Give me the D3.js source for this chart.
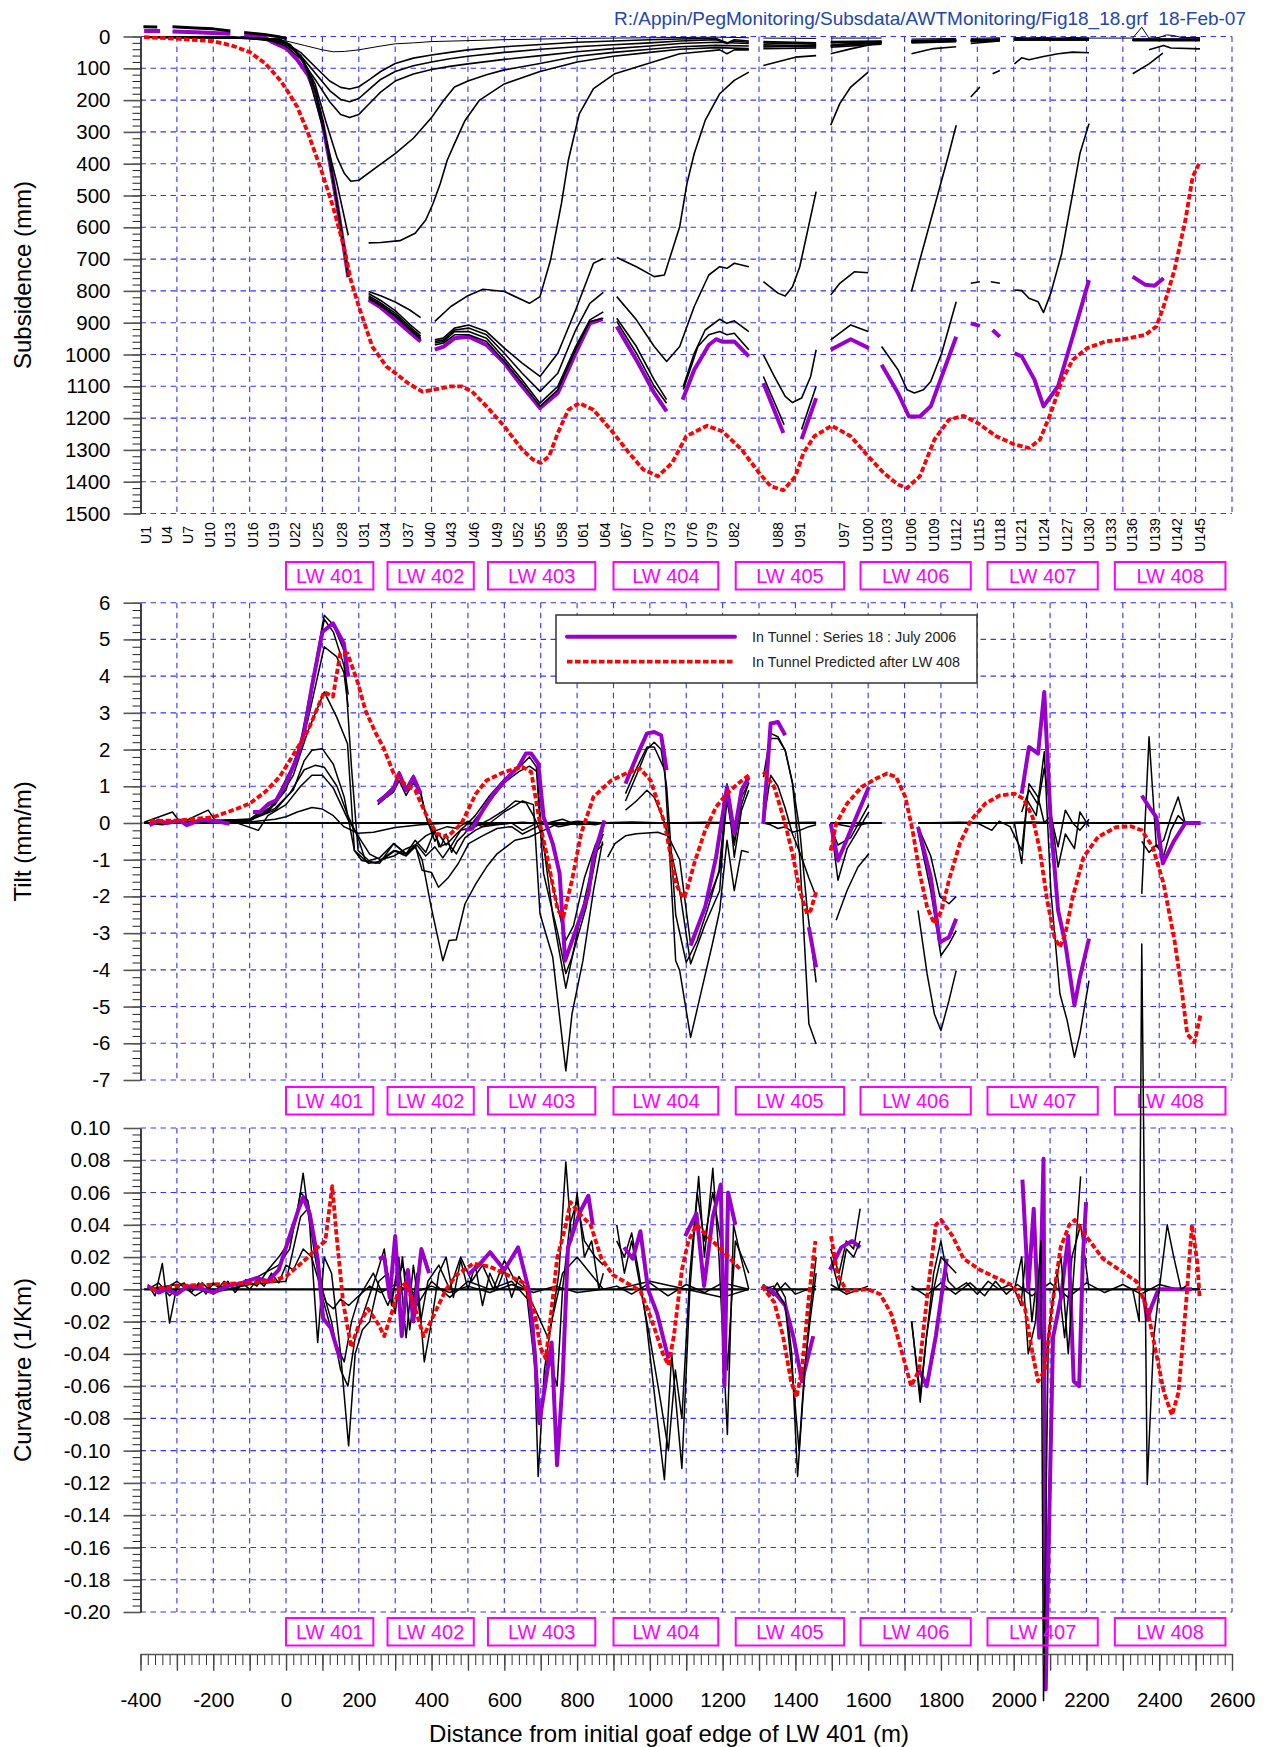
<!DOCTYPE html>
<html>
<head>
<meta charset="utf-8">
<title>Tunnel subsidence, tilt and curvature – LW 401 to LW 408</title>
<script src="https://cdn.jsdelivr.net/npm/d3@7"></script>
<style>
  html, body { margin: 0; padding: 0; background: #ffffff; }
  svg { display: block; }
  .header { white-space: pre; }
</style>
</head>
<body>
<svg id="chart" width="1272" height="1747"></svg>
<script>
// ================= DATA =================
// Distances (m) from the initial goaf edge of LW 401; gaps in a survey are null.

const headerText = "R:/Appin/PegMonitoring/Subsdata/AWTMonitoring/Fig18_18.grf  18-Feb-07";

// peg labels along the tunnel and their distances
const pegLabels = ["U1","U4","U7","U10","U13","U16","U19","U22","U25","U28","U31","U34","U37","U40","U43","U46","U49","U52","U55","U58","U61","U64","U67","U70","U73","U76","U79","U82","U88","U91","U97","U100","U103","U106","U109","U112","U115","U118","U121","U124","U127","U130","U133","U136","U139","U142","U145"];
const pegDistances = [-386,-326,-270,-210,-153,-90,-32,26,89,155,215,273,336,395,453,516,580,637,699,758,816,877,935,996,1056,1116,1171,1232,1351,1414,1534,1600,1651,1718,1780,1841,1905,1962,2021,2083,2146,2206,2267,2325,2387,2449,2512];

// longwall panels
const lwNames = ["LW 401","LW 402","LW 403","LW 404","LW 405","LW 406","LW 407","LW 408"];
const lwStart = [0, 279, 555, 900, 1236, 1579, 1928, 2278];
const lwEnd   = [240, 516, 850, 1188, 1534, 1882, 2231, 2582];

const legendLabels = ["In Tunnel : Series 18 : July 2006", "In Tunnel Predicted after LW 408"];

// ---------- Subsidence (mm) ----------
const subsPredicted = [[-390,2],[-300,7],[-200,15],[-150,28],[-100,49],[-57,85],[-18,135],[0,164],[31,222],[61,305],[100,431],[129,535],[159,661],[178,766],[200,849],[237,975],[276,1038],[300,1058],[335,1090],[375,1117],[404,1111],[453,1100],[482,1100],[511,1116],[551,1163],[600,1226],[649,1299],[678,1330],[700,1341],[723,1320],[747,1247],[776,1174],[806,1153],[845,1174],[900,1247],[943,1310],[982,1362],[1022,1383],[1061,1341],[1100,1257],[1157,1224],[1200,1242],[1252,1299],[1300,1372],[1332,1414],[1367,1427],[1400,1383],[1422,1310],[1452,1257],[1500,1224],[1552,1257],[1600,1320],[1642,1372],[1682,1409],[1707,1420],[1742,1383],[1782,1268],[1822,1205],[1862,1193],[1902,1216],[1952,1257],[2002,1283],[2042,1294],[2072,1268],[2102,1184],[2132,1084],[2162,1017],[2202,980],[2252,959],[2302,952],[2362,938],[2392,912],[2412,849],[2442,734],[2472,577],[2492,441],[2512,394]];

const subsSeries18 = [[-390,-17],[-346,-17],null,[-312,-16],[-250,-13],[-200,-11],[-153,-9],null,[-115,-5],[-60,2],[-37,18],[2,38],[30,72],[61,122],[80,178],[100,270],[120,393],[139,519],[159,663],[171,757],null,[227,828],[260,852],[300,890],[340,930],[370,959],null,[409,985],[433,975],[463,949],[502,944],[551,970],[600,1027],[649,1100],[698,1168],[747,1121],[796,996],[835,902],[870,889],null,[909,912],[963,1017],[1012,1121],[1046,1179],null,[1090,1142],[1122,1048],[1162,970],[1182,952],[1200,960],[1232,959],[1272,1006],null,[1312,1090],[1367,1247],null,[1417,1266],[1457,1137],null,[1497,985],[1552,952],[1602,980],null,[1637,1032],[1682,1121],[1712,1195],[1742,1195],[1772,1163],[1842,944],null,[1882,902],[1907,910],null,[1942,923],[1962,944],null,[2002,996],[2022,1006],[2057,1079],[2082,1163],[2122,1100],[2162,944],[2207,766],null,[2327,755],[2362,781],[2387,784],[2412,760]];

const subsEarlyOffset = [[-392,-31],[-354,-30],null,[-312,-31],[-250,-27],[-200,-24],[-153,-17],null,[-115,-13],[-60,-6],[-20,1],[2,7]];

const subsSurvey01 = [[-390,0],[-200,1],[-100,3],[-40,8],[0,14],[50,28],[100,42],[130,48],[160,47],[200,42],[250,32],[300,23],[350,20],[400,16],[500,13],[600,10],[700,8],[800,6],[900,5],[1000,4],[1100,3],[1182,2],[1272,4],null,[1312,5],[1457,6],null,[1497,5],[1637,5],null,[1719,8],[1842,6],null,[1882,6],[1962,4],null,[2002,3],[2040,5],[2080,3],[2120,6],[2160,3],[2207,5],[2260,5],[2327,5],[2352,-29],[2372,5],[2400,3],[2420,-5],[2440,-3],[2460,3],[2512,3]];
const subsSurvey02 = [[-390,1],[-200,2],[-100,4],[-40,10],[0,22],[40,50],[80,95],[120,140],[150,160],[175,165],[200,158],[230,135],[260,110],[300,85],[350,68],[400,58],[450,50],[500,42],[600,32],[700,25],[800,18],[900,14],[1000,10],[1082,8],[1182,6],[1212,20],[1232,10],[1272,14],null,[1312,16],[1457,20],null,[1497,16],[1637,14],null,[1719,12],[1842,10],null,[1882,10],[1962,8],null,[2002,6],[2207,6],null,[2327,8],[2512,8]];
const subsSurvey03 = [[-390,2],[-200,3],[-100,5],[-40,12],[0,25],[40,60],[80,115],[120,170],[150,198],[175,205],[200,195],[230,165],[260,135],[300,110],[350,92],[400,80],[450,70],[500,62],[600,50],[700,40],[800,32],[900,26],[1000,20],[1082,14],[1182,10],[1212,22],[1232,14],[1272,18],null,[1312,20],[1457,24],null,[1497,20],[1637,16],null,[1719,14],[1842,12],null,[1882,12],[1962,9],null,[2002,7],[2207,7],null,[2327,9],[2512,9]];
const subsSurvey04 = [[-390,2],[-200,3],[-100,6],[-40,14],[0,30],[40,70],[80,135],[120,205],[150,245],[175,255],[200,245],[230,210],[260,175],[300,140],[350,118],[400,104],[450,94],[500,86],[600,72],[700,60],[800,48],[900,38],[1000,30],[1082,22],[1182,18],[1272,22],null,[1312,26],[1457,30],null,[1497,28],[1560,22],[1637,18],null,[1719,16],[1842,14],null,[1882,14],[1962,10],null,[2002,8],[2207,8],null,[2327,10],[2512,10]];
const subsSurvey05 = [[-390,2],[-200,3],[-100,5],[-40,10],[0,22],[40,60],[80,150],[110,270],[140,380],[160,430],[178,455],[200,452],[250,410],[300,368],[350,320],[400,255],[433,201],[463,159],[500,140],[551,120],[600,105],[698,85],[800,62],[900,50],[1000,40],[1082,32],[1182,28],[1272,30],null,[1312,30],[1457,33],null,[1497,30],[1637,20],null,[1719,18],[1842,15],null,[1882,15],[1962,12],null,[2002,10],[2207,10],null,[2327,12],[2512,12]];
const subsSurvey06 = [[-390,2],[-200,3],[-100,6],[-40,11],[0,20],[40,62],[61,120],[80,200],[110,323],[139,457],[171,625],null,[227,649],[260,648],[313,642],[355,619],[384,577],[404,525],[424,462],[443,389],[463,337],[492,264],[531,201],[600,149],[698,110],[800,80],[900,62],[1000,50],[1082,40],[1182,35],[1272,38],null,[1312,38],[1457,36],null,[1497,34],[1637,24],null,[1719,20],[1842,16],null,[1882,16],[1962,13],null,[2002,11],[2207,11],null,[2327,13],[2512,13]];
const subsSurvey07 = [[-390,3],[-200,4],[-100,6],[-40,10],[-18,12],[12,30],[41,67],[61,109],[80,170],[100,265],[120,390],[139,517],[159,662],[171,755],null,[227,802],[260,815],[300,835],[340,860],[370,884],null,[409,896],[453,849],[500,815],[541,795],[600,802],[669,839],[698,818],[727,703],[757,525],[776,389],[806,243],[845,164],[904,117],[993,86],[1082,54],[1140,48],[1192,42],[1212,54],[1232,42],[1272,42],null,[1312,33],[1400,30],[1457,28],null,[1497,28],[1560,22],[1637,18],null,[1719,15],[1842,13],null,[1882,13],[1962,10],null,[2002,9],[2207,9],null,[2327,11],[2512,11]];
const subsSurvey08 = [[-390,2],[-200,3],[-100,5],[-40,9],[-18,11],[12,29],[41,66],[61,108],[80,171],[100,266],[120,391],[139,518],[159,662],[171,755],null,[227,808],[260,830],[300,862],[340,905],[370,934],null,[409,954],[433,948],[463,917],[502,907],[551,928],[600,980],[649,1027],[698,1069],[747,996],[796,860],[845,713],[872,698],null,[909,695],[963,724],[1012,755],[1040,750],[1082,598],[1102,462],[1122,368],[1152,264],[1192,180],[1232,138],[1272,112],null,[1312,91],[1400,65],[1457,60],null,[1497,54],[1552,39],[1637,18],null,[1719,15],[1842,12],null,[1882,12],[1962,10],null,[2002,8],[2207,8],null,[2327,10],[2512,10]];
const subsSurvey09 = [[-390,2],[-200,3],[-100,5],[-40,9],[-18,10],[12,28],[41,65],[61,107],[80,170],[100,265],[120,390],[139,517],[159,661],[171,755],null,[227,815],[260,838],[300,870],[340,912],[370,942],null,[409,959],[433,954],[463,923],[502,917],[551,938],[600,996],[649,1059],[698,1116],[747,1059],[796,923],[835,839],[872,805],null,[909,818],[963,891],[1012,975],[1046,1022],[1082,975],[1122,849],[1162,750],[1192,724],[1212,729],[1232,713],[1272,724],null,[1312,771],[1352,807],[1372,816],[1392,787],[1412,724],[1432,619],[1457,488],null,[1497,279],[1522,211],[1552,159],[1600,112],null,[1719,54],[1780,38],[1842,32],null,[1882,22],[1962,14],null,[2002,10],[2207,10],null,[2327,12],[2512,12]];
const subsSurvey10 = [[-390,1],[-200,2],[-100,4],[-40,8],[-18,9],[12,27],[41,64],[61,106],[80,169],[100,264],[120,389],[139,516],[159,661],[171,755],null,[227,820],[260,843],[300,876],[340,918],[370,948],null,[409,964],[433,959],[463,928],[502,928],[551,949],[600,1012],[649,1080],[698,1153],[747,1100],[796,975],[835,891],[872,866],null,[909,886],[963,975],[1012,1080],[1046,1142],null,[1092,1100],[1122,996],[1152,923],[1192,889],[1212,902],[1232,894],[1272,928],null,[1312,1001],[1342,1069],[1372,1132],[1392,1151],[1417,1137],[1442,1069],[1457,985],null,[1497,813],[1522,776],[1562,740],[1600,743],null,[1719,802],[1742,703],[1782,536],[1802,452],[1822,368],[1842,279],null,[1882,190],[1907,159],null,[1942,117],[1962,107],null,[2002,86],[2022,67],[2042,73],[2082,63],[2122,54],[2162,49],[2207,51],null,[2372,42],[2412,28],[2432,36],[2512,39]];
const subsSurvey11 = [[-390,1],[-200,2],[-100,4],[-40,8],[-18,8],[12,26],[41,63],[61,105],[80,168],[100,263],[120,388],[139,515],[159,660],[171,755],null,[227,824],[260,847],[300,880],[340,922],[370,952],null,[409,970],[433,964],[463,938],[502,938],[551,959],[600,1022],[649,1090],[698,1163],[747,1111],[796,985],[835,896],[872,886],null,[909,896],[963,996],[1012,1100],[1046,1153],null,[1092,1110],[1132,975],[1162,938],[1192,928],[1212,938],[1232,933],[1272,985],null,[1312,1069],[1369,1221],null,[1417,1236],[1457,1100],null,[1497,954],[1552,907],[1600,928],null,[1637,975],[1682,1048],[1707,1111],[1727,1121],[1752,1111],[1772,1085],[1802,996],[1842,834],null,[1882,776],[1907,771],null,[1937,771],[1962,776],null,[2002,797],[2022,799],[2042,823],[2067,834],[2082,868],[2102,807],[2132,682],[2162,494],[2182,368],[2207,274],null,[2327,117],[2372,86],[2410,52]];

// ---------- Tilt (mm/m) ----------
const tiltPredicted = [[-375,0.05],[-292,0.07],[-200,0.16],[-135,0.39],[-100,0.53],[-57,0.85],[-18,1.25],[22,1.89],[61,2.53],[105,3.57],[129,3.44],[149,4.62],[169,4.62],[198,3.8],[218,3.07],[247,2.44],[267,2.07],[296,1.35],[325,1.07],[355,0.89],[384,0.25],[414,-0.29],[443,-0.38],[482,-0.02],[522,0.8],[551,1.16],[600,1.39],[649,1.53],[674,1.39],[698,-0.02],[718,-0.93],[747,-2.38],[762,-2.56],[786,-1.56],[811,-0.29],[845,0.71],[894,1.16],[943,1.39],[973,1.48],[1002,1.16],[1041,-0.02],[1071,-1.65],[1092,-2.05],[1102,-1.84],[1122,-1.1],[1152,-0.2],[1182,0.44],[1212,0.8],[1242,1.07],[1272,1.3],null,[1312,1.39],[1342,0.98],[1372,-0.02],[1392,-0.84],[1412,-1.84],[1432,-2.47],[1442,-2.38],[1457,-1.88],null,[1497,-0.75],[1512,-0.02],[1542,0.53],[1582,0.98],[1622,1.21],[1652,1.35],[1677,1.25],[1702,0.71],[1722,-0.2],[1742,-1.38],[1762,-2.29],[1782,-2.75],[1802,-2.38],[1822,-1.56],[1852,-0.56],[1882,0.07],[1922,0.53],[1962,0.75],[2002,0.8],[2027,0.66],[2052,0.16],[2072,-0.75],[2092,-2.11],[2112,-3.11],[2127,-3.38],[2142,-3.02],[2162,-2.02],[2192,-0.93],[2232,-0.38],[2282,-0.11],[2322,-0.09],[2352,-0.2],[2382,-0.65],[2412,-1.65],[2442,-3.2],[2462,-4.56],[2477,-5.75],[2497,-5.97],[2514,-5.2]];

const tiltSeries18 = [[-375,-0.06],[-351,0.07],[-330,0.0],[-292,0.07],[-273,-0.06],[-233,0.09],[-194,0.05],[-155,-0.02],null,[-91,0.3],[-72,0.3],[-47,0.53],[-27,0.62],[2,1.12],[31,1.8],[51,2.53],[71,3.71],[100,5.2],[129,5.44],[159,4.89],[171,3.98],null,[252,0.57],[276,0.75],[296,0.94],[311,1.35],[330,0.89],[350,1.25],[370,0.8],null,[492,-0.2],[512,-0.15],[541,0.35],[571,0.8],[610,1.25],[639,1.53],[659,1.89],[674,1.89],[693,1.62],[708,0.16],[733,-0.56],[752,-1.38],[767,-3.75],[796,-2.93],[831,-1.93],[845,-0.93],[875,0.07],null,[933,1.07],[963,1.8],[992,2.44],[1012,2.48],[1031,2.39],[1046,1.44],null,[1112,-3.34],[1152,-2.29],[1182,-0.93],[1212,0.98],[1232,-0.29],[1252,0.89],[1272,1.25],null,[1312,-0.02],[1332,2.71],[1352,2.75],[1372,2.39],null,[1437,-2.84],[1457,-3.93],null,[1497,-0.02],[1517,-1.02],[1552,-0.2],[1602,0.98],null,[1737,-0.11],[1772,-1.47],[1797,-3.25],[1822,-3.11],[1842,-2.61],null,[2022,0.8],[2042,2.07],[2067,1.89],[2084,3.57],[2102,-0.02],[2122,-2.38],[2142,-3.29],[2167,-4.97],[2182,-4.2],[2207,-3.15],null,[2352,0.75],[2372,0.44],[2392,0.16],[2410,-1.1],[2440,-0.5],[2472,0],[2514,0]];

const tiltSurvey01 = [[-390,0],[1272,0],null,[1312,0],[1457,0],null,[1497,0],[1637,0],null,[1737,0],[2512,0]];
const tiltSurvey02 = [[-390,0],[-300,0.02],[-200,0],[-100,0.03],[-30,0.1],[0,0.17],[31,0.3],[71,0.42],[100,0.38],[130,0.2],[159,-0.1],[198,-0.28],[240,-0.25],[300,-0.12],[370,-0.05],[450,0],[550,-0.05],[650,0.02],[750,-0.05],[850,0],[950,0.03],[1050,0],[1150,0.02],[1272,0],null,[1312,0],[1457,0.02],null,[1497,0],[1637,0],null,[1737,0],[1850,0.02],[1950,0],[2050,0.03],[2150,0],[2207,0.02]];
const tiltSurvey03 = [[-390,0.02],[-312,0.3],[-290,0],[-214,0.35],[-190,0],[-150,0.05],[-76,-0.2],[-50,0.2],[0,0.5],[40,1.0],[71,1.3],[100,1.3],[130,0.95],[170,0.1],[198,-0.35],[230,-0.85],[260,-1.0],[296,-0.9],[330,-0.7],[355,-0.6],[384,-0.35],[414,-0.2],[443,-0.1],[470,-0.15],[500,0.05],[540,-0.1],[580,-0.05],[620,0.0],[650,-0.2],[700,0.05],[750,-0.1],[800,0],[850,-0.05],[872,0]];
const tiltSurvey04 = [[-390,0],[-200,0.03],[-100,0.08],[-30,0.35],[10,0.8],[50,1.45],[80,1.57],[105,1.52],[140,1.0],[170,0.2],[198,-0.4],[218,-1.02],[257,-1.1],[296,-0.56],[330,-0.84],[355,-0.6],[374,-1.29],[400,-1.35],[419,-1.75],[445,-1.5],[473,-1.11],[502,-0.56],[540,-0.35],[580,-0.15],[620,-0.1],[650,-0.3],[700,-0.05],[760,0.1],[800,-0.05],[872,0]];
const tiltSurvey05 = [[-390,0],[-100,0.08],[-30,0.4],[20,0.9],[50,1.7],[71,1.98],[100,2.02],[130,1.6],[160,0.7],[188,-0.75],[227,-1.1],[257,-1.05],[300,-0.75],[330,-0.85],[355,-0.65],[374,-1.0],[399,-2.29],[431,-3.75],[448,-3.2],[468,-3.18],[492,-2.2],[522,-1.65],[551,-1.2],[580,-0.84],[629,-0.47],[669,-0.38],[698,-0.25],[740,-0.05],[800,0.05],[872,0]];
const tiltSurvey06 = [[-390,0],[-100,0.1],[-30,0.5],[20,1.3],[60,2.5],[105,3.57],[139,2.89],[169,2.16],[188,-0.75],[208,-1.02],[247,-1.1],[296,-0.75],[330,-0.9],[360,-0.6],[384,-0.9],[409,-0.65],[431,-0.95],[455,-0.6],[480,-0.2],[520,-0.1],[560,0.1],[600,0.35],[630,0.6],[660,0.55],[680,0.2],[698,-0.2],[720,-1.2],[747,-2.3],[769,-3.2],[790,-2.8],[820,-1.5],[850,-0.6],[872,-0.2],null,[884,-0.93],[904,-0.56],[933,-0.35],[963,-0.29],[1022,-0.25],[1050,-0.35],[1082,-1.0],[1112,-3.3],[1152,-2.3],[1192,-1.3],[1212,0.6],[1232,-0.5],[1252,0.5],[1272,1.1],null,[1312,0],[1332,-0.05],[1352,-0.15],[1372,-0.1],[1392,-0.25],[1412,-0.2],[1437,-0.1],[1457,-0.05],null,[1497,0],[1552,-0.1],[1602,0],[1637,0]];
const tiltSurvey07 = [[-390,0],[-100,0.1],[-30,0.6],[20,1.6],[60,2.8],[105,4.8],[139,4.53],[159,4.1],[171,3.16],null,[252,0.5],[276,0.7],[296,0.85],[311,1.15],[330,0.75],[350,1.1],[370,0.8],[390,0.0],[409,-0.3],[425,-0.65],[440,-0.3],[455,-0.8],[470,-0.5],[490,-0.3],[520,0.1],[560,0.6],[600,1.1],[640,1.4],[669,1.55],[690,1.4],[700,0],[733,-2.5],[769,-4.5],[800,-3.0],[845,-1.0],[872,-0.3],null,[933,0.35],[963,0.6],[992,0.89],[1012,0.7],[1041,0],[1082,-1.84],[1112,-3.84],[1152,-2.75],[1192,-1.84],[1212,1.07],[1232,-0.93],[1252,0.35],[1272,0.89],null,[1312,0.5],[1332,2.3],[1352,2.3],[1372,1.98],[1392,1.1],[1412,-0.2],[1432,-2.29],[1457,-4.34],null,[1512,-2.65],[1542,-1.84],[1572,-1.2],[1602,-0.84],null,[1737,-0.2],[1772,-1.84],[1800,-3.61],[1822,-3.3],[1842,-2.93],null,[1900,0],[1940,-0.2],[1960,0.05],[1990,-0.1],[2022,-0.75],[2042,1.07],[2067,0.7],[2084,0],[2102,0.2],[2122,-0.65],[2142,0.35],[2162,0],[2182,-0.2],[2207,0.1],null,[2352,-0.5],[2372,-0.8],[2392,-0.6],[2412,-0.9],[2432,-0.2],[2452,0.2],[2472,0]];
const tiltSurvey08 = [[-390,0],[-340,-0.05],[-300,0.02],[-200,0.02],[-100,0.1],[-50,0.3],[0,0.9],[40,2.2],[71,3.8],[105,5.66],[130,5.4],[159,4.7],[180,1.5],[198,-0.75],[227,-1.02],[257,-0.95],[296,-0.56],[330,-0.84],[355,-0.47],[384,-0.8],[409,-0.2],[420,-0.65],[445,-0.55],[468,-0.84],[492,-0.4],[520,-0.2],[560,0.0],[600,0.3],[650,0.6],[680,0.5],[698,-2.47],[733,-3.65],[769,-6.75],[786,-5.2],[816,-3.75],[845,-1.84],[870,-0.5],null,[933,0.8],[963,1.48],[992,2.07],[1012,2.07],[1041,1.44],[1071,-3.75],[1082,-4.02],[1112,-5.84],[1142,-4.56],[1172,-3.29],[1192,-2.38],[1212,-0.47],[1232,-1.84],[1252,-0.75],[1272,-0.8],null,[1312,1.25],[1332,2.44],[1352,2.35],[1372,1.98],[1392,1.07],[1412,-0.93],[1437,-5.47],[1457,-6.02],null,[1497,0],[1517,-1.56],[1542,-0.7],[1572,-0.2],[1602,0.3],null,[1737,-2.38],[1762,-4.11],[1782,-5.2],[1800,-5.65],[1822,-4.84],[1842,-4.02],null,[2002,0],[2022,-1.1],[2037,0.62],[2062,0.2],[2084,1.94],[2102,-1.84],[2127,-4.65],[2147,-5.38],[2167,-6.38],[2182,-5.75],[2207,-4.29],null,[2352,-1.93],[2372,2.35],[2392,-0.65],[2412,-0.47],[2432,0.16],[2452,0.71],[2472,-0.02]];
const tiltSurvey09 = [[-390,0],[-200,0.02],[-100,0.05],[-50,0.35],[0,1.0],[40,2.1],[71,3.6],[105,5.55],[130,5.2],[159,4.3],[171,3.5],null,[252,0.6],[276,0.8],[296,1.0],[311,1.4],[330,0.95],[350,1.3],[370,0.85],[384,0.2],[409,-0.5],[420,-0.3],[440,-0.6],[468,-0.3],[490,-0.1],[520,0.2],[560,0.75],[600,1.2],[640,1.5],[669,1.8],[688,1.53],[698,-0.02],[708,-1.38],[723,-2.02],[747,-3.0],[769,-4.1],[786,-3.65],[825,-2.29],[855,-0.75],[872,-0.56],null,[933,0.6],[963,1.3],[992,2.0],[1012,2.2],[1031,2.0],[1046,1.0],[1071,-2.5],[1100,-3.8],[1130,-3.2],[1160,-2.3],[1190,-1.3],[1212,0.9],[1232,-0.6],[1252,0.7],[1272,1.1],null,[1312,0.0],[1332,1.3],[1352,1.0],[1372,0.4],[1392,-0.3],[1412,-0.8],[1437,-1.5],[1457,-2.0],null,[1497,-0.1],[1517,-0.6],[1552,-0.4],[1602,0.5],null,[1737,-0.1],[1772,-0.9],[1797,-2.0],[1822,-2.2],[1842,-2.0],null,[2022,0.3],[2042,0.9],[2067,0.5],[2084,1.5],[2102,0.3],[2122,-1.2],[2142,-0.3],[2167,-0.7],[2182,0.3],[2207,-0.1]];

// ---------- Curvature (1/km) ----------
const curvPredicted = [[-372,0.0],[-300,0.002],[-200,0.003],[-100,0.004],[-40,0.005],[0,0.008],[56,0.019],[87,0.026],[108,0.03],[127,0.064],[139,0.033],[157,-0.008],[179,-0.036],[200,-0.022],[225,-0.012],[255,-0.022],[270,-0.029],[290,-0.015],[310,0.0],[330,0.004],[355,-0.012],[378,-0.029],[408,-0.015],[440,0.0],[469,0.009],[515,0.016],[561,0.014],[607,0.009],[653,0.004],[684,-0.015],[699,-0.036],[714,-0.043],[730,-0.012],[745,0.019],[769,0.04],[782,0.054],[806,0.047],[837,0.04],[867,0.019],[898,0.009],[929,0.005],[974,-0.001],[1005,-0.019],[1036,-0.04],[1051,-0.047],[1066,-0.029],[1088,0.012],[1106,0.03],[1128,0.04],[1158,0.033],[1204,0.023],[1250,0.012],null,[1308,0.002],[1342,-0.008],[1366,-0.029],[1388,-0.057],[1403,-0.067],[1418,-0.05],[1437,-0.005],[1455,0.03],null,[1498,0.033],[1516,0.009],[1541,-0.001],[1600,0.0],[1633,-0.003],[1663,-0.015],[1694,-0.04],[1718,-0.06],[1740,-0.05],[1764,-0.001],[1786,0.04],[1801,0.043],[1832,0.033],[1862,0.019],[1908,0.012],[1954,0.007],[2000,0.002],[2031,-0.012],[2052,-0.04],[2067,-0.057],[2086,-0.05],[2107,-0.008],[2129,0.026],[2153,0.04],[2168,0.043],[2199,0.033],[2245,0.019],[2291,0.012],[2337,0.005],[2367,-0.012],[2392,-0.04],[2413,-0.064],[2435,-0.078],[2453,-0.064],[2474,-0.008],[2490,0.04],[2505,0.016],[2511,-0.005]];

const curvSeries18 = [[-380,0.002],[-350,-0.002],[-330,0.0],[-300,-0.003],[-270,0.002],[-240,0.001],[-200,-0.002],[-160,0.002],[-120,0.004],[-82,0.007],[-50,0.005],[-20,0.012],[10,0.033],[35,0.05],[47,0.057],[65,0.047],[87,0.019],[102,-0.018],[123,-0.024],[148,-0.043],null,[255,0.019],[270,0.02],[285,-0.005],[300,0.033],[318,-0.029],[335,0.012],[350,-0.02],[372,0.025],[393,0.01],null,[500,0.009],[530,0.015],[561,0.023],[600,0.012],[638,0.026],[668,-0.001],[684,-0.04],[696,-0.083],[714,-0.057],[730,-0.033],[745,-0.109],[760,-0.057],[775,0.026],[806,0.047],[831,0.058],[843,0.04],null,[929,0.026],[953,0.019],[974,0.036],[995,0.0],[1020,-0.015],[1051,-0.043],null,[1097,0.033],[1128,0.047],[1149,0.002],[1173,0.045],[1195,0.065],[1205,-0.06],[1215,0.06],[1235,0.04],null,[1308,0.002],[1330,0.0],[1350,-0.004],[1372,-0.01],[1395,-0.03],[1418,-0.057],[1449,-0.029],null,[1495,0.012],[1526,0.026],[1556,0.03],[1578,0.026],null,[1740,-0.05],[1761,-0.06],[1786,-0.029],[1816,0.019],null,[2024,0.068],[2040,0.0],[2055,0.05],[2070,-0.03],[2082,0.081],[2088,-0.248],[2108,-0.03],[2130,-0.005],[2150,0.033],[2165,-0.057],[2180,-0.06],[2190,0.019],[2199,0.054],null,[2358,-0.005],[2367,-0.019],[2380,-0.01],[2398,0.0],[2450,0.0],[2490,0.0]];

const curvSurvey01 = [[-390,0],[1272,0],null,[1312,0],[1457,0],null,[1497,0],[1602,0],null,[1719,0],[2512,0]];
const curvSurvey02 = [[-380,0.003],[-360,-0.004],[-340,0.016],[-320,-0.021],[-300,0.002],[-280,0.004],[-260,-0.002],[-240,0.004],[-220,-0.003],[-200,0.004],[-180,0.0],[-160,0.005],[-140,-0.002],[-120,0.004],[-100,0.0],[-80,0.006],[-60,0.002],[-40,0.01],[-20,0.004],[0,0.015],[20,0.012],[47,0.025],[70,0.02],[90,0.005],[110,-0.008],[130,-0.012],[150,-0.006],[172,-0.01],[200,-0.004],[230,0.002],[260,-0.002],[300,0.003],[350,-0.002],[400,0.002],[450,-0.002],[500,0.002],[560,-0.002],[620,0.003],[680,-0.002],[740,0.002],[800,-0.002],[872,0.0],[909,0.002],[950,-0.003],[1000,0.004],[1050,-0.004],[1100,0.003],[1150,-0.002],[1200,0.004],[1272,0],null,[1312,0.003],[1340,-0.004],[1372,0.004],[1400,-0.003],[1457,0.002],null,[1497,0.003],[1540,-0.003],[1600,0.002],null,[1719,0.002],[1760,-0.004],[1800,0.004],[1840,-0.003],[1880,0.004],[1920,-0.004],[1950,0.005],[1980,-0.003],[2010,0.003],[2050,-0.004],[2100,0.004],[2150,-0.005],[2200,0.004],[2250,-0.002],[2300,0.003],[2350,-0.003],[2400,0.003],[2450,0.0],[2512,0.0]];
const curvSurvey03 = [[-380,0.0],[-350,0.004],[-320,-0.004],[-290,0.003],[-260,0.0],[-230,0.004],[-200,-0.003],[-170,0.005],[-140,0.0],[-110,0.006],[-80,0.002],[-50,0.012],[-20,0.02],[10,0.03],[30,0.045],[47,0.072],[65,0.04],[87,-0.033],[105,0.02],[125,0.01],[150,-0.04],[172,-0.097],[190,-0.04],[210,-0.025],[230,-0.02],[255,0.005],[280,0.01],[300,-0.015],[320,0.02],[340,-0.025],[360,0.01],[380,-0.045],[400,-0.02],[420,0.01],[440,0.02],[460,-0.005],[480,0.018],[500,0.0],[520,0.015],[540,-0.01],[560,0.01],[580,0.0],[600,0.012],[620,-0.005],[640,0.008],[660,0.0],[680,-0.02],[693,-0.116],[710,-0.05],[730,-0.02],[750,0.01],[769,0.079],[785,0.03],[800,0.06],[820,0.02],[840,0.03],[860,0.0],[872,0.01],null,[909,0.04],[930,0.01],[950,0.03],[975,0.0],[1000,-0.03],[1030,-0.07],[1051,-0.1],[1070,-0.05],[1088,-0.08],[1110,0.01],[1130,0.06],[1150,0.03],[1173,0.06],[1195,0.03],[1213,-0.05],[1235,0.03],[1272,0.01]];
const curvSurvey04 = [[-380,0.002],[-350,-0.002],[-300,0.005],[-250,-0.004],[-200,0.003],[-150,0.0],[-100,0.005],[-60,0.01],[-20,0.015],[10,0.025],[40,0.06],[60,0.055],[80,0.03],[100,0.0],[125,-0.02],[150,-0.05],[170,-0.06],[190,-0.03],[220,-0.01],[250,0.01],[270,0.025],[290,-0.01],[310,0.02],[330,-0.03],[350,0.015],[370,-0.02],[390,0.005],[420,0.015],[450,0.0],[480,0.02],[510,0.005],[540,0.015],[570,0.0],[600,0.018],[630,0.005],[660,0.0],[680,-0.04],[700,-0.08],[720,-0.04],[745,-0.06],[760,0.0],[780,0.04],[800,0.055],[820,0.03],[850,0.02],[872,0.015],null,[909,0.03],[930,0.02],[950,0.035],[970,0.01],[990,-0.02],[1010,-0.06],[1040,-0.118],[1060,-0.04],[1088,-0.111],[1110,0.0],[1134,0.07],[1150,0.02],[1173,0.075],[1190,0.02],[1213,-0.09],[1230,0.04],[1250,0.02],[1272,0.0]];
const curvSurvey05 = [[-380,0.0],[-300,0.003],[-200,-0.002],[-100,0.003],[0,0.005],[40,0.045],[60,0.05],[80,0.02],[100,-0.005],[130,-0.03],[160,-0.045],[180,-0.02],[200,-0.005],[240,0.01],[280,-0.01],[320,0.015],[360,-0.01],[400,0.005],[450,-0.005],[500,0.005],[560,0.0],[620,0.005],[680,-0.01],[720,-0.03],[760,0.01],[800,0.02],[872,0.0],null,[909,0.0],[1000,0.005],[1100,0.0],[1200,-0.005],[1272,0.0],null,[1312,0.003],[1330,-0.003],[1350,0.004],[1372,-0.005],[1390,-0.04],[1406,-0.116],[1420,-0.07],[1437,-0.02],[1457,0.02],null,[1497,0.025],[1520,0.01],[1540,0.03],[1560,0.025],[1578,0.05],null,[1720,-0.02],[1743,-0.07],[1760,-0.03],[1780,0.01],[1800,0.03],[1820,0.005],[1842,0.0],[1870,0.004],[1900,-0.003],[1930,0.005],[1960,0.0],[1990,0.003],[2002,0.0],[2020,-0.01],[2035,0.025],[2050,-0.02],[2065,0.01],[2085,-0.05],[2100,-0.02],[2120,0.01],[2140,-0.03],[2160,0.02],[2184,0.04],[2207,0.0]];
const curvSurvey06 = [[1312,0.0],[1340,0.002],[1372,-0.01],[1395,-0.06],[1410,-0.1],[1425,-0.05],[1440,-0.02],[1457,0.01],null,[1497,0.02],[1520,0.0],[1540,0.025],[1560,0.02],[1578,0.03],null,[1719,-0.02],[1743,-0.065],[1760,-0.03],[1780,0.0],[1800,0.02],[1842,0.01],null,[2002,0.0],[2022,0.02],[2040,-0.04],[2060,-0.02],[2075,0.03],[2082,-0.255],[2095,-0.03],[2110,0.0],[2130,0.02],[2150,-0.04],[2165,0.01],[2184,0.07],null,[2327,0.0],[2345,-0.02],[2352,0.214],[2367,-0.121],[2385,-0.03],[2400,0.0],[2422,0.04],[2440,0.02],[2460,0.0],[2480,0.003]];

// ================= LAYOUT =================
const FONT = '"Liberation Sans", Arial, Helvetica, sans-serif';
const GRID = "#3434ff";
const PURPLE = "#9a00cc";
const RED = "#ff0000";
const MAGENTA = "#ff00ff";

const svg = d3.select("#chart");
svg.append("rect").attr("width", 1272).attr("height", 1747).attr("fill", "#fff");

const x = d3.scaleLinear().domain([-400, 2600]).range([140.5, 1232]);
const ySubs = d3.scaleLinear().domain([0, 1500]).range([36.5, 513.5]);
const yTilt = d3.scaleLinear().domain([6, -7]).range([602.7, 1080]);
const yCurv = d3.scaleLinear().domain([0.1, -0.2]).range([1128, 1612]);

const gridDistances = d3.range(-300, 2601, 100);

function panelFrame(y, majorTicks, minorTicks, fmt, title) {
  const [top, bottom] = y.range();
  const g = svg.append("g");
  g.selectAll("line.vgrid").data(gridDistances).join("line")
    .attr("x1", d => x(d)).attr("x2", d => x(d))
    .attr("y1", top).attr("y2", bottom)
    .attr("stroke", GRID).attr("stroke-width", 1.1).attr("stroke-dasharray", "5.5,4.5");
  g.selectAll("line.hgrid").data(majorTicks).join("line")
    .attr("x1", x(-400)).attr("x2", x(2600))
    .attr("y1", d => y(d)).attr("y2", d => y(d))
    .attr("stroke", GRID).attr("stroke-width", 1.1).attr("stroke-dasharray", "5.5,4.5");

  const minor = svg.append("g").attr("transform", `translate(${x(-400)},0)`)
    .call(d3.axisLeft(y).tickValues(minorTicks).tickSize(8).tickSizeOuter(0).tickFormat(""));
  minor.select(".domain").remove();
  minor.selectAll("line").attr("stroke", "#222").attr("stroke-width", 1);

  const major = svg.append("g").attr("transform", `translate(${x(-400)},0)`)
    .call(d3.axisLeft(y).tickValues(majorTicks).tickSize(17).tickPadding(13).tickSizeOuter(0).tickFormat(fmt));
  major.attr("font-family", FONT).attr("font-size", 20.5);
  major.select(".domain").attr("stroke", "#000").attr("stroke-width", 1.5);
  major.selectAll(".tick line").attr("stroke", "#555").attr("stroke-width", 1.6);
  major.selectAll(".tick text").attr("fill", "#000");

  svg.append("text")
    .attr("transform", `translate(22,${(top + bottom) / 2}) rotate(-90)`)
    .attr("text-anchor", "middle").attr("dominant-baseline", "central")
    .attr("font-family", FONT).attr("font-size", 24).attr("fill", "#000")
    .text(title);
}

function drawLine(y, data, color, width, dash) {
  const gen = d3.line().defined(d => d !== null).x(d => x(d[0])).y(d => y(d[1]));
  svg.append("path").datum(data)
    .attr("d", gen).attr("fill", "none")
    .attr("stroke", color).attr("stroke-width", width)
    .attr("stroke-linejoin", "round")
    .attr("stroke-dasharray", dash || null);
}

function lwRow(top) {
  const g = svg.append("g");
  lwNames.forEach((name, i) => {
    const x0 = x(lwStart[i]), x1 = x(lwEnd[i]);
    g.append("rect").attr("x", x0).attr("y", top).attr("width", x1 - x0).attr("height", 27.5)
      .attr("fill", "none").attr("stroke", MAGENTA).attr("stroke-width", 2);
    g.append("text").attr("x", (x0 + x1) / 2).attr("y", top + 14)
      .attr("text-anchor", "middle").attr("dominant-baseline", "central")
      .attr("font-family", FONT).attr("font-size", 20).attr("fill", MAGENTA).text(name);
  });
}

// header path/date
svg.append("text").attr("class", "header").attr("x", 1246).attr("y", 25).attr("text-anchor", "end")
  .attr("font-family", FONT).attr("font-size", 19).attr("fill", "#2345b0").text(headerText);

// ---------- subsidence panel ----------
panelFrame(ySubs, d3.range(0, 1501, 100), d3.range(0, 1501, 20), d => String(d), "Subsidence (mm)");
drawLine(ySubs, subsSeries18, PURPLE, 4);
[subsSurvey02, subsSurvey03, subsSurvey04, subsSurvey05, subsSurvey06, subsSurvey07,
 subsSurvey08, subsSurvey09, subsSurvey10, subsSurvey11].forEach(s => drawLine(ySubs, s, "#000", 1.6));
drawLine(ySubs, subsSurvey01, "#000", 1);
drawLine(ySubs, subsEarlyOffset, "#000", 3);
drawLine(ySubs, subsPredicted, RED, 3.8, "5.5,2.5");

// peg labels
svg.append("g").selectAll("text").data(pegLabels).join("text")
  .attr("transform", (d, i) => `translate(${x(pegDistances[i])},535) rotate(-90)`)
  .attr("text-anchor", "middle").attr("dominant-baseline", "central")
  .attr("font-family", FONT).attr("font-size", 14).attr("fill", "#000")
  .text(d => d);
lwRow(562);

// ---------- tilt panel ----------
panelFrame(yTilt, d3.range(-7, 7, 1), d3.range(-7, 6.01, 0.2), d => String(d), "Tilt (mm/m)");
drawLine(yTilt, tiltSurvey01, "#000", 2.2);
[tiltSurvey02, tiltSurvey03, tiltSurvey04, tiltSurvey05, tiltSurvey06, tiltSurvey07,
 tiltSurvey08, tiltSurvey09].forEach(s => drawLine(yTilt, s, "#000", 1.5));
drawLine(yTilt, tiltSeries18, PURPLE, 4);
drawLine(yTilt, tiltPredicted, RED, 3.8, "5.5,2.5");
lwRow(1087);

// legend
const lg = svg.append("g");
lg.append("rect").attr("x", 556).attr("y", 615).attr("width", 421).attr("height", 68)
  .attr("fill", "#fff").attr("stroke", "#333").attr("stroke-width", 1.5);
lg.append("line").attr("x1", 567).attr("x2", 735).attr("y1", 636.7).attr("y2", 636.7)
  .attr("stroke", PURPLE).attr("stroke-width", 4).attr("stroke-linecap", "round");
lg.append("line").attr("x1", 567).attr("x2", 733).attr("y1", 661.7).attr("y2", 661.7)
  .attr("stroke", RED).attr("stroke-width", 3.8).attr("stroke-dasharray", "5.5,2.5");
legendLabels.forEach((t, i) => {
  lg.append("text").attr("x", 752).attr("y", 641.8 + i * 25)
    .attr("font-family", FONT).attr("font-size", 14.3).attr("fill", "#222").text(t);
});

// ---------- curvature panel ----------
const curvMajor = d3.range(-10, 6).map(i => i * 0.02);
const curvMinor = d3.range(-50, 26).map(i => i * 0.004);
panelFrame(yCurv, curvMajor, curvMinor, d => d.toFixed(2), "Curvature (1/Km)");
drawLine(yCurv, curvSurvey01, "#000", 2.2);
[curvSurvey02, curvSurvey03, curvSurvey04, curvSurvey05].forEach(s => drawLine(yCurv, s, "#000", 1.5));
drawLine(yCurv, curvSeries18, PURPLE, 4);
drawLine(yCurv, curvSurvey06, "#000", 1.5);
drawLine(yCurv, curvPredicted, RED, 3.8, "5.5,2.5");
lwRow(1618);

// ---------- distance axis ----------
const axisY = 1654;
const minorX = svg.append("g").attr("transform", `translate(0,${axisY})`)
  .call(d3.axisBottom(x).tickValues(d3.range(-400, 2601, 20)).tickSize(11).tickSizeOuter(0).tickFormat(""));
minorX.select(".domain").remove();
minorX.selectAll("line").attr("stroke", "#333").attr("stroke-width", 1);
const majorX = svg.append("g").attr("transform", `translate(0,${axisY})`)
  .call(d3.axisBottom(x).tickValues(d3.range(-400, 2601, 100)).tickSize(16.7).tickPadding(21.5)
    .tickSizeOuter(0).tickFormat(d => (d % 200 === 0 ? String(d) : "")));
majorX.attr("font-family", FONT).attr("font-size", 20.5);
majorX.select(".domain").attr("stroke", "#555").attr("stroke-width", 1.5);
majorX.selectAll(".tick line").attr("stroke", "#444").attr("stroke-width", 1.4);
majorX.selectAll(".tick text").attr("fill", "#000");

svg.append("text").attr("x", 669).attr("y", 1742).attr("text-anchor", "middle")
  .attr("font-family", FONT).attr("font-size", 24).attr("fill", "#000")
  .text("Distance from initial goaf edge of LW 401 (m)");
</script>
</body>
</html>
